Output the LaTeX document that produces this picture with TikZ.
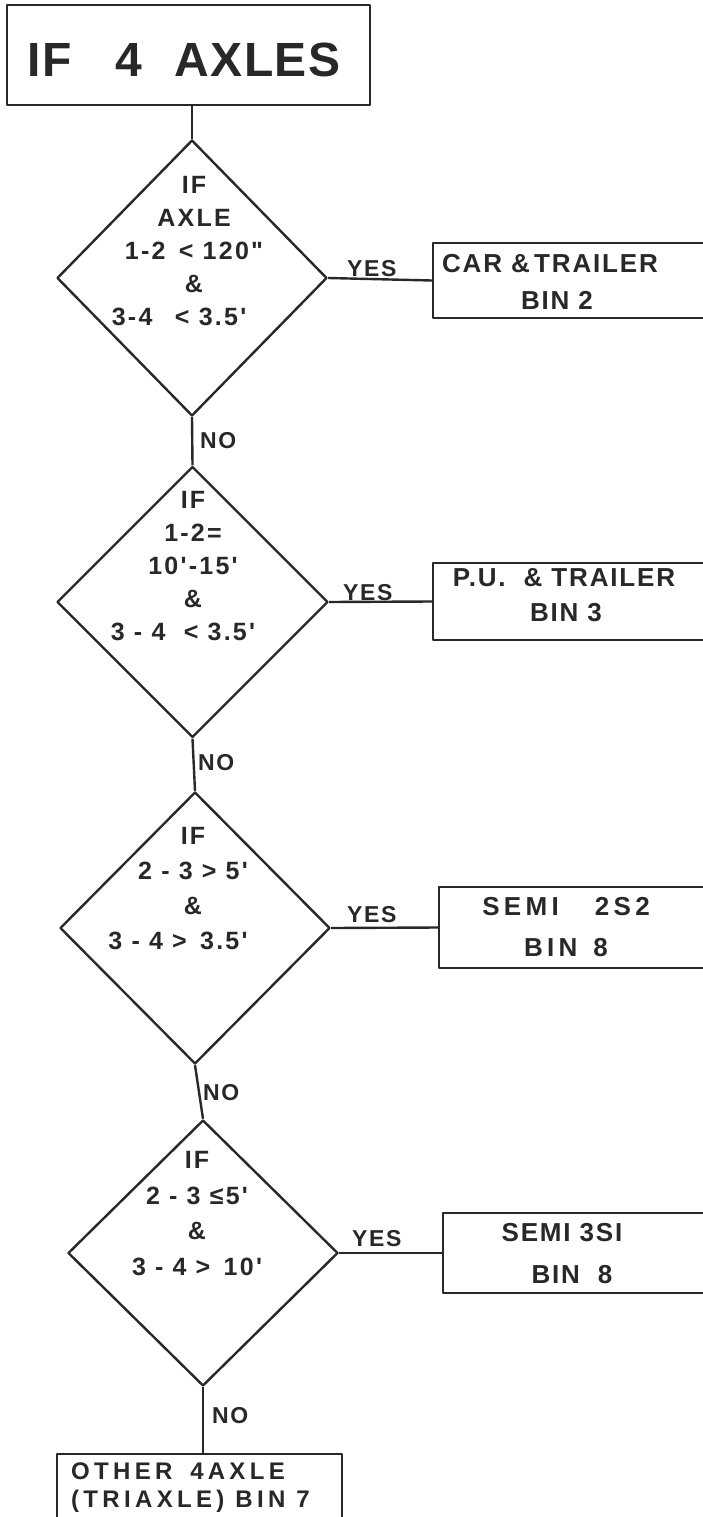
\documentclass[tikz,border=0pt]{standalone}
\usepackage{fontspec}
\newfontfamily\lett[LetterSpace=7]{Liberation Sans}
\newfontfamily\lettd[LetterSpace=9]{Liberation Sans}
\newfontfamily\lettw[LetterSpace=18]{Liberation Sans}
\newfontfamily\lettt[LetterSpace=3]{Liberation Sans}
\usetikzlibrary{shapes.geometric}
\definecolor{ink}{HTML}{282828}
\begin{document}
\begin{tikzpicture}[x=1pt,y=-1pt, line join=round,
  ln/.style={draw=ink, line width=2.4pt},
  dia/.style={ln, diamond, inner sep=0pt, shape aspect=1},
  bx/.style={ln, rectangle, inner sep=0pt},
  dtext/.style={text=ink, align=center, inner sep=0pt, font=\lettd\bfseries\fontsize{25}{33}\selectfont},
  btext/.style={text=ink, align=center, inner sep=0pt, font=\lett\bfseries\fontsize{26}{38}\selectfont},
  lab/.style={text=ink, inner sep=0pt, font=\lett\bfseries\fontsize{23}{23}\selectfont}]
\clip (0,0) rectangle (703,1517);
\fill[white] (0,0) rectangle (703,1517);

% top box
\node[bx, minimum width=363pt, minimum height=100pt] (top) at (188.5,55) {};
\node[text=ink, inner sep=0pt, font=\lettt\bfseries\fontsize{48}{48}\selectfont] (toptext) at (184,59.5) {IF\hspace{44pt}4\hspace{32pt}AXLES};

% diamonds
\node[dia, minimum width=270pt, minimum height=276pt] (d1) at (192,278) {};
\node[dia, minimum width=271pt, minimum height=271pt] (d2) at (192.5,602) {};
\node[dia, minimum width=270pt, minimum height=272pt] (d3) at (195,928) {};
\node[dia, minimum width=270pt, minimum height=266pt] (d4) at (203,1253) {};

\node[dtext] (t1) at (194,251) {IF\\AXLE\\1-2 \,< 120"\\\&\\3-4 \ \,< 3.5'\hspace*{30pt}};
\node[dtext] (t2) at (193,566.5) {IF\\1-2=\\10'-15'\\\&\\3 - 4 \ < 3.5'\hspace*{20pt}};
\node[dtext, font=\lettd\bfseries\fontsize{25}{35}\selectfont] (t3) at (193,888.5) {IF\\2 - 3 > 5'\\\&\hspace*{-14pt}\\3 - 4 > \,3.5'\hspace*{30pt}};
\node[dtext, font=\lettd\bfseries\fontsize{25}{35.5}\selectfont] (t4) at (197,1213.5) {IF\\2 - 3 ≤5'\\\&\\3 - 4 > \,10'};

% result boxes
\node[bx, minimum width=287pt, minimum height=75pt] (b1) at (576.5,280.5) {};
\node[bx, minimum width=287pt, minimum height=77pt] (b2) at (576.5,601.5) {};
\node[bx, minimum width=281pt, minimum height=81pt] (b3) at (579.5,927.5) {};
\node[bx, minimum width=277pt, minimum height=80pt] (b4) at (581.5,1253) {};
\node[bx, minimum width=285pt, minimum height=80pt] (b5) at (199.5,1494) {};

\node[btext, font=\lett\bfseries\fontsize{26}{37}\selectfont] (bt1) at (550,281.5) {CAR \&\,TRAILER\\BIN 2\hspace*{-14pt}};
\node[btext, font=\lett\bfseries\fontsize{26}{35}\selectfont] (bt2) at (564,595.5) {P.U. \ \& TRAILER\\BIN 3\hspace*{-4pt}};
\node[btext, font=\lett\bfseries\fontsize{26}{41}\selectfont] (bt3) at (566,927.5) {S\,E\,M\,I\hspace{36pt}2\,S\,2\\B\,I\,N\hspace{16pt}8};
\node[btext, font=\lett\bfseries\fontsize{26}{42}\selectfont] (bt4) at (565,1254) {SEMI 3SI\hspace*{6pt}\\BIN\hspace{18pt}8\hspace*{-14pt}};
\node[text=ink, inner sep=0pt, align=left, anchor=west, font=\lettw\bfseries\fontsize{24}{28}\selectfont] (bt5) at (71,1488) {OTHER\hspace{18pt}4\,AXLE\\(TRIAXLE) BIN 7};

% connectors
\draw[ln] (d1.north |- top.south) -- (d1.north);
\draw[ln] (d1.south) -- (d2.north);
\draw[ln] (d2.south) -- (d3.north);
\draw[ln] (d3.south) -- (d4.north);
\draw[ln] (d4.south) -- (d4.south |- b5.north);
\draw[ln] (d1.east) -- (b1.west);
\draw[ln] (d2.east) -- (b2.west);
\draw[ln] (d3.east) -- (b3.west);
\draw[ln] (d4.east) -- (b4.west);

% labels
\node[lab, anchor=south west] (y1) at (347,277) {YES};
\node[lab, anchor=south west] (y2) at (343,601) {YES};
\node[lab, anchor=south west] (y3) at (347,923) {YES};
\node[lab, anchor=south west] (y4) at (352,1247) {YES};
\node[lab, anchor=west] (n1) at (200,441) {NO};
\node[lab, anchor=west] (n2) at (198,763) {NO};
\node[lab, anchor=west] (n3) at (203,1093) {NO};
\node[lab, anchor=west] (n4) at (212,1416) {NO};
\end{tikzpicture}
\end{document}
